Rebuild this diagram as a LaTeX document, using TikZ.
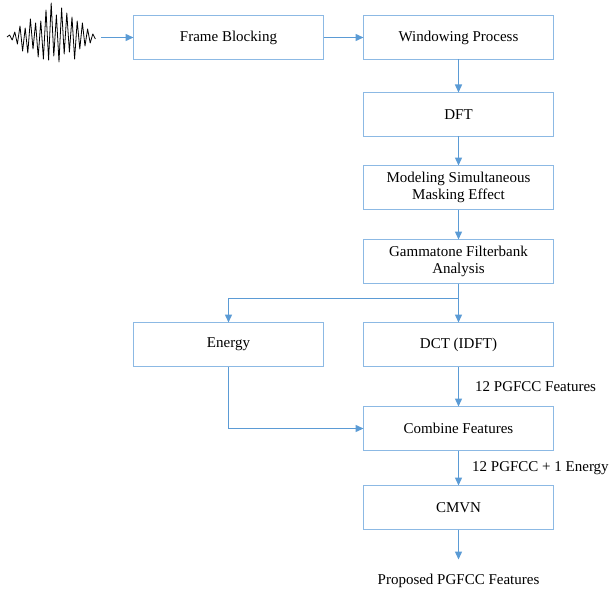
\documentclass[tikz,border=0pt]{standalone}
\usepackage{fontspec}
\setmainfont{Liberation Serif}
\usepackage{xcolor}
\usepackage{tikz}
\usetikzlibrary{arrows.meta,positioning,calc}
\definecolor{boxblue}{RGB}{140,185,228}
\definecolor{arrblue}{RGB}{91,155,213}
\tikzset{
  blk/.style={rectangle, draw=boxblue, line width=1.4pt, align=center,
              font=\fontsize{15}{17}\selectfont, inner sep=2pt, outer sep=0pt,
              minimum width=190pt, minimum height=44pt},
  fl/.style={-{Triangle[length=8pt,width=7pt]}, draw=arrblue, line width=1.4pt},
  lbl/.style={font=\fontsize{15}{17}\selectfont, inner sep=2pt},
  wave/.style={draw=black, line width=0.8pt, line join=round},
}

\begin{document}
\begin{tikzpicture}[x=1pt,y=-1pt]
\useasboundingbox (0,0) rectangle (610,591);
\node[blk] (frame) at (228.5,37.5) {Frame Blocking};
\node[blk, right=40pt of frame] (window) {Windowing Process};
\node[blk, below=33pt of window] (dft) {DFT};
\node[blk, below=29pt of dft] (mask) {Modeling Simultaneous\\Masking Effect};
\node[blk, below=30pt of mask] (gamma) {Gammatone Filterbank\\Analysis};
\node[blk, below=39pt of gamma] (dct) {DCT (IDFT)};
\node[blk, left=40pt of dct] (energy) {Energy};
\node[blk, below=40pt of dct] (combine) {Combine Features};
\node[blk, below=35pt of combine] (cmvn) {CMVN};
\node[lbl, inner ysep=14pt, below=30pt of cmvn] (out) {Proposed PGFCC Features};
% speech signal
\draw[wave] (7,37) \foreach \a [count=\i] in {2,-3,5,-7,11,-14,9,-16,18,-12,14,-20,16,-22,27,-23,34,-19,22,-25,29,-17,24,-15,20,-22,16,-12,14,-9,8,-6,3,-2}
  { -- ({7+\i*2.6},{37-\a}) };
\coordinate (sig) at (101,37.5);
\coordinate (split) at ($(gamma.south)+(0,15)$);
\draw[fl] (sig) -- (frame);
\draw[fl] (frame) -- (window);
\draw[fl] (window) -- (dft);
\draw[fl] (dft) -- (mask);
\draw[fl] (mask) -- (gamma);
\draw[fl] (gamma) -- (dct);
\draw[fl] (split) -| (energy.north);
\draw[fl] (dct) -- node[lbl,right=14pt]{12 PGFCC Features} (combine);
\draw[fl] (energy.south) |- (combine.west);
\draw[fl] (combine) -- node[lbl,right=11pt]{12 PGFCC + 1 Energy} (cmvn);
\draw[fl] (cmvn) -- (out);
\end{tikzpicture}
\end{document}
